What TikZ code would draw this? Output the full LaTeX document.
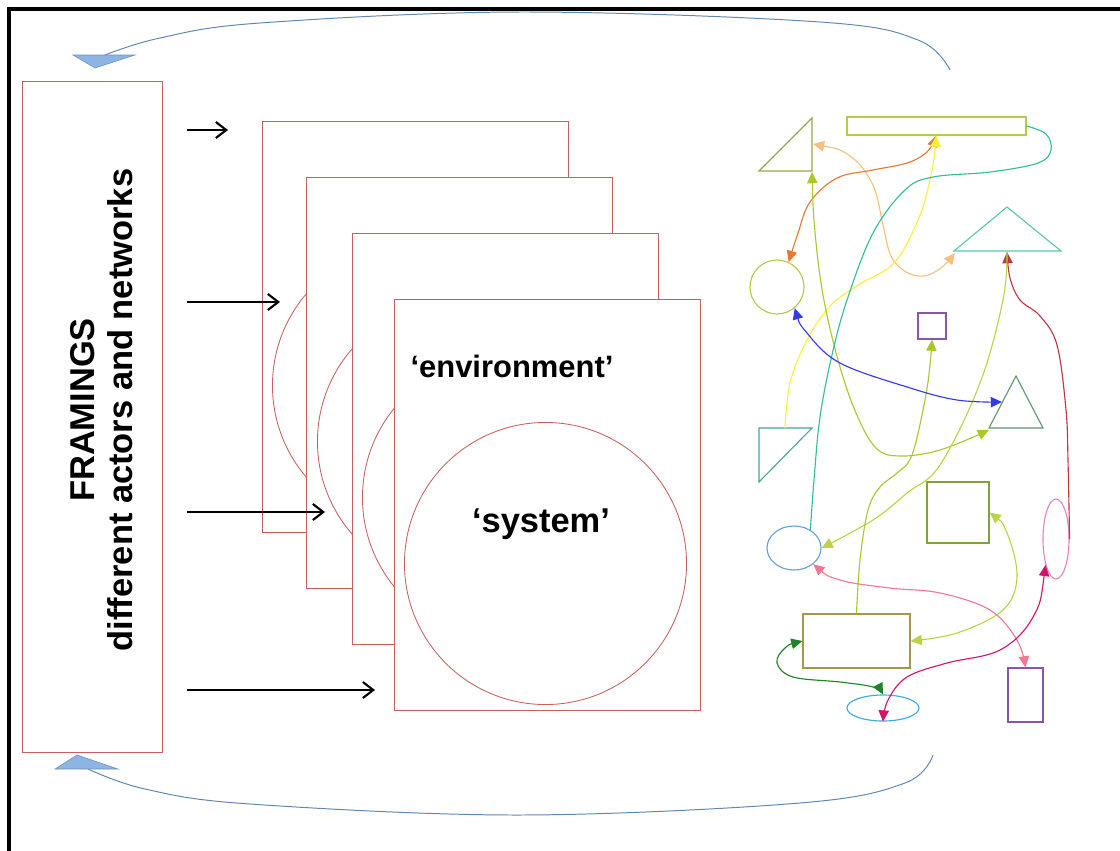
\documentclass[tikz,border=0pt]{standalone}
\usepackage{fontspec}
\setmainfont{Liberation Sans}
\usepackage{tikz}
\usetikzlibrary{arrows.meta, shapes.geometric}

\definecolor{framered}{RGB}{200,95,95}
\definecolor{arcblue}{RGB}{95,135,175}
\definecolor{tipblue}{RGB}{141,180,226}
\definecolor{tipedge}{RGB}{105,145,200}
% network colours
\definecolor{olive}{RGB}{155,165,80}
\definecolor{lime}{RGB}{185,200,70}
\definecolor{teal}{RGB}{90,200,170}
\definecolor{deepteal}{RGB}{70,165,160}
\definecolor{grape}{RGB}{135,85,170}
\definecolor{moss}{RGB}{95,150,110}
\definecolor{leaf}{RGB}{130,160,60}
\definecolor{rose}{RGB}{230,130,190}
\definecolor{sky}{RGB}{100,160,220}
\definecolor{khaki}{RGB}{165,150,75}
\definecolor{cyanish}{RGB}{60,170,220}
\definecolor{lorange}{RGB}{245,192,125}
\definecolor{dorange}{RGB}{230,120,50}
\definecolor{sun}{RGB}{250,240,60}
\definecolor{ygreen}{RGB}{170,200,40}
\definecolor{ygreenb}{RGB}{190,210,70}
\definecolor{sea}{RGB}{50,190,150}
\definecolor{brick}{RGB}{190,55,65}
\definecolor{salmon}{RGB}{240,120,150}
\definecolor{crimson}{RGB}{210,20,110}
\definecolor{forest}{RGB}{30,130,40}
\definecolor{royal}{RGB}{50,60,230}

\begin{document}
\begin{tikzpicture}[
  x=0.025cm, y=-0.025cm,
  every node/.style={font=\bfseries},
  frame/.style={draw=framered, fill=white, line width=0.6pt, minimum width=7.65cm, minimum height=10.275cm, inner sep=0pt},
  ring/.style={circle, draw=framered, line width=0.6pt, minimum size=7.05cm, inner sep=0pt},
  shp/.style={draw, line width=0.8pt, inner sep=0pt},
  link/.style={line width=0.8pt},
  onehead/.style={-{Triangle[length=2.8mm,width=2.6mm]}},
  twohead/.style={{Triangle[length=2.8mm,width=2.6mm]}-{Triangle[length=2.8mm,width=2.6mm]}},
  feed/.style={-{Straight Barb[length=2.6mm,width=4mm,line width=1.5pt]}, line width=1.6pt},
  loop/.style={draw=arcblue, line width=0.7pt},
  loophead/.style={fill=tipblue, draw=tipedge, line width=0.4pt}
]
\useasboundingbox (0,0) rectangle (1120,850);
\draw[line width=2.2pt] (9,860) |- (1130,9);

% framings box
\node[draw=framered, line width=0.6pt, minimum width=3.5cm, minimum height=16.75cm] (framings) at (92,417) {};
\node[rotate=90, align=center, font=\bfseries\fontsize{24.5}{27}\selectfont] (framtext) at (102,410)
  {FRAMINGS\\different actors and networks};

% stacked frames, each with its system circle
\node[frame] (f1) at (415,326.5) {};
\node[ring] (c1) at (413.5,385.5) {};
\node[frame] (f2) at (459.5,382.5) {};
\node[ring] (c2) at (458.5,441.5) {};
\node[frame] (f3) at (505,438.5) {};
\node[ring] (c3) at (503.5,497.5) {};
\node[frame] (f4) at (547,504.5) {};
\node[ring] (c4) at (545.5,563.5) {};
\node[font=\bfseries\fontsize{22}{26}\selectfont] (env) at (512,366) {‘environment’};
\node[font=\bfseries\fontsize{24.5}{28}\selectfont] (sys) at (541,524) {‘system’};

% arrows from framings into the frames
\coordinate (in1) at (187,130);  \coordinate (at1) at (228,130);
\coordinate (in2) at (187,302);  \coordinate (at2) at (280,302);
\coordinate (in3) at (187,512);  \coordinate (at3) at (325,512);
\coordinate (in4) at (187,690);  \coordinate (at4) at (375,690);
\draw[feed] (in1) -- (at1);
\draw[feed] (in2) -- (at2);
\draw[feed] (in3) -- (at3);
\draw[feed] (in4) -- (at4);

% feedback loops
\coordinate (topstart) at (950,70);
\coordinate (topend) at (105,55);
\coordinate (botstart) at (933,755);
\coordinate (botend) at (88,769);
\draw[loop] plot[smooth, tension=0.6] coordinates {(topstart) (918,40) (820,22) (520,12) (260,23) (160,38) (topend)};
\draw[loop] plot[smooth, tension=0.6] coordinates {(botstart) (905,783) (800,803) (520,815) (250,804) (145,789) (botend)};
\fill[loophead] (73,55) -- (135,55) -- (95,68) -- cycle;
\fill[loophead] (77,755) -- (118,769) -- (55,769) -- cycle;

% network shapes
\coordinate (t1a) at (759,171); \coordinate (t1b) at (812,118); \coordinate (t1c) at (812,171);
\coordinate (t3a) at (1007,207); \coordinate (t3b) at (954,251); \coordinate (t3c) at (1061,251);
\coordinate (t6a) at (1016,376); \coordinate (t6b) at (989,428); \coordinate (t6c) at (1043,428);
\coordinate (t7a) at (759,428); \coordinate (t7b) at (812,428); \coordinate (t7c) at (759,482);
\draw[shp, olive] (t1a) -- (t1b) -- (t1c) -- cycle;
\draw[shp, teal] (t3a) -- (t3b) -- (t3c) -- cycle;
\draw[shp, moss] (t6a) -- (t6b) -- (t6c) -- cycle;
\draw[shp, deepteal] (t7a) -- (t7b) -- (t7c) -- cycle;
\coordinate (t1r) at (813,144);
\coordinate (t1s) at (812,172);
\coordinate (t3s) at (1007,252);
\coordinate (t3w) at (955,253);
\coordinate (t6w) at (1002,402);
\coordinate (t6s) at (989,430);
\coordinate (t7n) at (785,428);

\node[shp, lime, minimum width=4.475cm, minimum height=0.45cm] (lrect) at (936.5,126) {};
\node[shp, lime, circle, minimum size=1.35cm] (circ) at (777,287) {};
\node[shp, grape, minimum width=0.7cm, minimum height=0.65cm] (psq) at (932,326) {};
\node[shp, leaf, minimum width=1.55cm, minimum height=1.525cm] (osq) at (958,512.5) {};
\node[shp, rose, ellipse, minimum width=0.65cm, minimum height=2cm] (pinkell) at (1056,539) {};
\node[shp, sky, ellipse, minimum width=1.35cm, minimum height=1.1cm] (blueell) at (794,548) {};
\node[shp, khaki, minimum width=2.675cm, minimum height=1.35cm] (orect) at (856.5,641) {};
\node[shp, cyanish, ellipse, minimum width=1.8cm, minimum height=0.65cm] (cyanell) at (883,708) {};
\node[shp, grape, minimum width=0.875cm, minimum height=1.35cm] (prect) at (1025.5,695) {};

% network links
\draw[link, twohead, lorange] plot[smooth, tension=0.6] coordinates {(t1r) (850,156) (873,185) (883,225) (891,256) (906,272) (924,276) (941,268) (t3w)};
\draw[link, twohead, dorange] plot[smooth, tension=0.6] coordinates {(circ.65) (798,233) (810,202) (837,178) (873,170) (907,163) (927,152) (lrect.south)};
\draw[link, onehead, sun] plot[smooth, tension=0.6] coordinates {(t7n) (790,383) (806,342) (830,306) (860,284) (895,262) (920,215) (932,170) (lrect.south)};
\draw[link, twohead, ygreen] plot[smooth, tension=0.6] coordinates {(t1s) (815,232) (823,295) (838,360) (856,413) (876,448) (900,456) (940,450) (t6s)};
\draw[link, sea] plot[smooth, tension=0.6] coordinates {(lrect.east) (1046,134) (1051,150) (1038,163) (990,172) (933,177) (905,190) (873,233) (847,300) (832,355) (820,417) (814,480) (blueell.48)};
\draw[link, onehead, brick] plot[smooth, tension=0.6] coordinates {(pinkell.east) (1068,460) (1066,410) (1057,345) (1040,316) (1020,300) (1010,278) (t3s)};
\draw[link, onehead, ygreenb] plot[smooth, tension=0.6] coordinates {(t3s) (1003,300) (980,383) (940,465) (907,493) (873,520) (blueell.east)};
\draw[link, onehead, ygreen] plot[smooth, tension=0.6] coordinates {(orect.north) (860,560) (868,510) (880,487) (897,473) (912,455) (925,400) (930,365) (psq.south)};
\draw[link, twohead, ygreenb] plot[smooth, tension=0.6] coordinates {(osq.east) (1007,533) (1017,577) (1003,610) (957,633) (orect.east)};
\draw[link, twohead, salmon] plot[smooth, tension=0.6] coordinates {(blueell.-40) (840,580) (890,588) (940,593) (990,610) (1017,640) (prect.north)};
\draw[link, twohead, crimson] plot[smooth, tension=0.6] coordinates {(pinkell.-112) (1033,617) (1000,650) (947,663) (907,677) (888,700) (cyanell.south)};
\draw[link, twohead, forest] plot[smooth, tension=0.6] coordinates {(orect.west) (785,648) (777,663) (793,677) (840,682) (873,687) (cyanell.north)};
\draw[link, twohead, royal] plot[smooth, tension=0.6] coordinates {(circ.-50) (807,333) (840,363) (907,387) (957,400) (t6w)};

\end{tikzpicture}
\end{document}
